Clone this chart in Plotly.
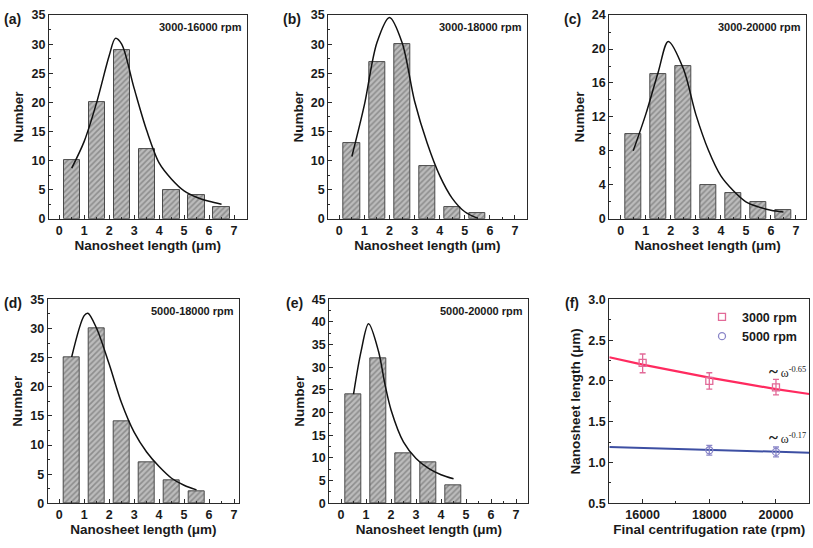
import plotly.graph_objects as go

# ---------------- data ----------------
bin_centers = [0.5, 1.5, 2.5, 3.5, 4.5, 5.5, 6.5]
counts_a = [10, 20, 29, 12, 5, 4, 2]
counts_b = [13, 27, 30, 9, 2, 1]
counts_c = [10, 17, 18, 4, 3, 2, 1]
counts_d = [25, 30, 14, 7, 4, 2]
counts_e = [24, 32, 11, 9, 4]

fit_a_x = [0.5, 1.0, 1.5, 2.0, 2.25, 2.5, 3.0, 3.5, 4.0, 4.5, 5.0, 5.5, 6.0, 6.5]
fit_a_y = [8.7, 13.3, 20.0, 28.0, 31.0, 30.0, 22.4, 15.2, 9.6, 6.8, 4.8, 3.7, 3.0, 2.5]
fit_b_x = [0.5, 1.0, 1.5, 2.0, 2.5, 3.0, 3.5, 4.0, 4.5, 5.0, 5.5]
fit_b_y = [10.7, 19.6, 30.3, 34.6, 30.3, 20.2, 13.0, 7.4, 3.5, 1.2, 0.1]
fit_c_x = [0.5, 1.0, 1.5, 1.9, 2.5, 3.0, 3.5, 4.0, 4.5, 5.0, 5.5, 6.0, 6.5]
fit_c_y = [8.0, 12.3, 17.3, 20.9, 17.7, 12.3, 8.1, 5.05, 3.3, 2.0, 1.4, 1.0, 0.8]
fit_d_x = [0.5, 1.0, 1.15, 1.5, 2.0, 2.5, 3.0, 3.5, 4.0, 4.5, 5.0, 5.5]
fit_d_y = [25.1, 32.2, 32.6, 30.0, 23.9, 17.2, 12.2, 8.8, 6.3, 4.3, 3.1, 2.3]
fit_e_x = [0.5, 0.8, 1.1, 1.5, 1.75, 2.0, 2.5, 3.0, 3.5, 4.0, 4.5]
fit_e_y = [24.1, 33.5, 39.6, 33.5, 26.4, 20.6, 13.5, 9.9, 7.7, 6.3, 5.4]

rate_3000 = [16000, 18000, 20000]
len_3000 = [2.22, 2.00, 1.92]
err_up_3000 = [0.11, 0.10, 0.10]
err_dn_3000 = [0.12, 0.10, 0.09]
rate_5000 = [18000, 20000]
len_5000 = [1.15, 1.13]
err_5000 = [0.06, 0.06]
fit_rate = [15000, 16000, 17000, 18000, 19000, 20000, 21000]
fit_3000 = [2.29, 2.20, 2.12, 2.04, 1.97, 1.90, 1.84]
fit_5000 = [1.19, 1.178, 1.166, 1.155, 1.143, 1.132, 1.12]

panel_labels = ["(a)", "(b)", "(c)", "(d)", "(e)", "(f)"]
rpm_labels = ["3000-16000 rpm", "3000-18000 rpm", "3000-20000 rpm",
              "5000-18000 rpm", "5000-20000 rpm"]
y_ranges = [[0, 35], [0, 35], [0, 24], [0, 35], [0, 45]]
y_dticks = [5, 5, 4, 5, 5]

# ---------------- layout geometry ----------------
W, H = 813, 548
FONT = "Liberation Sans"

def xd(l, r):
    return [l / W, r / W]

def yd(t, b):
    return [1 - b / H, 1 - t / H]

# (left, right, top, bottom) pixel boxes and x-ranges
boxes = [
    (49, 246.5, 8.3, 217.3),
    (328.3, 526.5, 8.3, 217.3),
    (609.3, 806, 8.3, 217.3),
    (47.7, 239, 300, 509.3),
    (329.3, 528.3, 300, 509.3),
    (609.3, 809.3, 300, 509.3),
]
x_ranges = [[-0.41, 7.5], [-0.44, 7.46], [-0.455, 7.4], [-0.46, 7.2], [-0.47, 7.49]]

fig = go.Figure()

counts = [counts_a, counts_b, counts_c, counts_d, counts_e]
fits = [(fit_a_x, fit_a_y), (fit_b_x, fit_b_y), (fit_c_x, fit_c_y),
        (fit_d_x, fit_d_y), (fit_e_x, fit_e_y)]

for i in range(5):
    xa = "x" if i == 0 else f"x{i+1}"
    ya = "y" if i == 0 else f"y{i+1}"
    c = counts[i]
    fig.add_trace(go.Bar(
        x=bin_centers[:len(c)], y=c, width=0.65, xaxis=xa, yaxis=ya,
        marker=dict(color="#bcbcbc",
                    line=dict(color="#4a4a4a", width=1),
                    pattern=dict(shape="/", fgcolor="#5e5e5e", size=4,
                                 solidity=0.4, fillmode="overlay")),
        showlegend=False))
    fx, fy = fits[i]
    fig.add_trace(go.Scatter(
        x=fx, y=fy, mode="lines", xaxis=xa, yaxis=ya,
        line=dict(color="#111111", width=1.5, shape="spline", smoothing=0.9),
        showlegend=False))

# panel f
PINK = "#e26a98"
RED = "#ff2a5f"
BLUE = "#3d4fa3"
LBLUE = "#8a86c8"
fig.add_trace(go.Scatter(x=fit_rate, y=fit_3000, mode="lines", xaxis="x6", yaxis="y6",
                         line=dict(color=RED, width=2.2), showlegend=False))
fig.add_trace(go.Scatter(x=fit_rate, y=fit_5000, mode="lines", xaxis="x6", yaxis="y6",
                         line=dict(color=BLUE, width=2), showlegend=False))
fig.add_trace(go.Scatter(
    x=rate_3000, y=len_3000, mode="markers", name="3000 rpm", xaxis="x6", yaxis="y6",
    marker=dict(symbol="square-open", size=7, color=PINK, line=dict(width=1.3)),
    error_y=dict(type="data", array=err_up_3000, arrayminus=err_dn_3000,
                 color=PINK, thickness=1.3, width=3)))
fig.add_trace(go.Scatter(
    x=rate_5000, y=len_5000, mode="markers", name="5000 rpm", xaxis="x6", yaxis="y6",
    marker=dict(symbol="circle-open", size=7, color=LBLUE, line=dict(width=1.3)),
    error_y=dict(type="data", array=err_5000, color=LBLUE, thickness=1.3, width=3)))

axis_common = dict(showline=True, linecolor="#2a2a2a", linewidth=1.2, mirror=True,
                   ticks="inside", ticklen=4, tickcolor="#2a2a2a", showgrid=False,
                   zeroline=False,
                   tickfont=dict(family=FONT, size=12.5, color="#1a1a1a", weight="bold"))

layout = dict(width=W, height=H, margin=dict(l=0, r=0, t=0, b=0),
              plot_bgcolor="white", paper_bgcolor="white", bargap=0,
              font=dict(family=FONT, color="#1a1a1a"))

title_font = dict(family=FONT, size=13.5, color="#1a1a1a", weight="bold")

for i in range(6):
    l, r, t, b = boxes[i]
    xk = "xaxis" if i == 0 else f"xaxis{i+1}"
    yk = "yaxis" if i == 0 else f"yaxis{i+1}"
    anchor_x = "y" if i == 0 else f"y{i+1}"
    anchor_y = "x" if i == 0 else f"x{i+1}"
    if i < 5:
        xa = dict(axis_common, domain=xd(l, r), anchor=anchor_x, range=x_ranges[i],
                  tickmode="linear", tick0=0, dtick=1,
                  minor=dict(ticks="inside", dtick=0.5, ticklen=2, tickcolor="#2a2a2a"),
                  title=dict(text="Nanosheet length (μm)", font=title_font, standoff=0))
        ya = dict(axis_common, domain=yd(t, b), anchor=anchor_y, range=y_ranges[i],
                  tickmode="linear", tick0=0, dtick=y_dticks[i],
                  minor=dict(ticks="inside", dtick=y_dticks[i] / 2, ticklen=2,
                             tickcolor="#2a2a2a"),
                  title=dict(text="Number", font=title_font, standoff=4))
    else:
        xa = dict(axis_common, domain=xd(l, r), anchor=anchor_x, range=[15000, 21000],
                  tickmode="array", tickvals=[16000, 18000, 20000],
                  ticktext=["16000", "18000", "20000"],
                  minor=dict(ticks="inside", tickvals=[17000, 19000], ticklen=2,
                             tickcolor="#2a2a2a"),
                  title=dict(text="Final centrifugation rate (rpm)", font=title_font,
                             standoff=2))
        ya = dict(axis_common, domain=yd(t, b), anchor=anchor_y, range=[0.5, 3.0],
                  tickmode="linear", tick0=0.5, dtick=0.5, tickformat=".1f",
                  minor=dict(ticks="inside", dtick=0.25, ticklen=2, tickcolor="#2a2a2a"),
                  title=dict(text="Nanosheet length (μm)", font=title_font, standoff=4))
    layout[xk] = xa
    layout[yk] = ya

annotations = []
label_pos = [(2, 12), (281, 12), (562, 12), (2, 304), (284, 304), (563, 304)]
for lab, (px, py) in zip(panel_labels, label_pos):
    annotations.append(dict(text=lab, x=px / W, y=1 - py / H, xref="paper", yref="paper",
                            xanchor="left", yanchor="middle", showarrow=False,
                            font=dict(family=FONT, size=14, color="#1a1a1a", weight="bold")))
for i, lab in enumerate(rpm_labels):
    l, r, t, b = boxes[i]
    annotations.append(dict(text=lab, x=(r - 3) / W, y=1 - (t + 12) / H,
                            xref="paper", yref="paper", xanchor="right", yanchor="middle",
                            showarrow=False,
                            font=dict(family=FONT, size=11, color="#1a1a1a", weight="bold")))
tilde = '<span style="font-size:17px;font-weight:bold">~</span> '
annotations.append(dict(text=tilde + "ω<sup>-0.65</sup>", x=767 / W, y=1 - 374 / H,
                        xref="paper", yref="paper", xanchor="left", yanchor="middle",
                        showarrow=False,
                        font=dict(family="Liberation Serif", size=12, color="#222222")))
annotations.append(dict(text=tilde + "ω<sup>-0.17</sup>", x=767 / W, y=1 - 442 / H,
                        xref="paper", yref="paper", xanchor="left", yanchor="middle",
                        showarrow=False,
                        font=dict(family="Liberation Serif", size=12, color="#222222")))
layout["annotations"] = annotations
layout["legend"] = dict(x=702 / W, y=1 - 303 / H, xanchor="left", yanchor="top",
                        bgcolor="rgba(0,0,0,0)", tracegroupgap=0, itemwidth=30,
                        font=dict(family=FONT, size=12.5, color="#1a1a1a", weight="bold"))

fig.update_layout(**layout)
fig.write_html("out.html", config={"displayModeBar": False},
               post_script="document.body.style.margin='0';document.body.style.overflow='hidden';")
